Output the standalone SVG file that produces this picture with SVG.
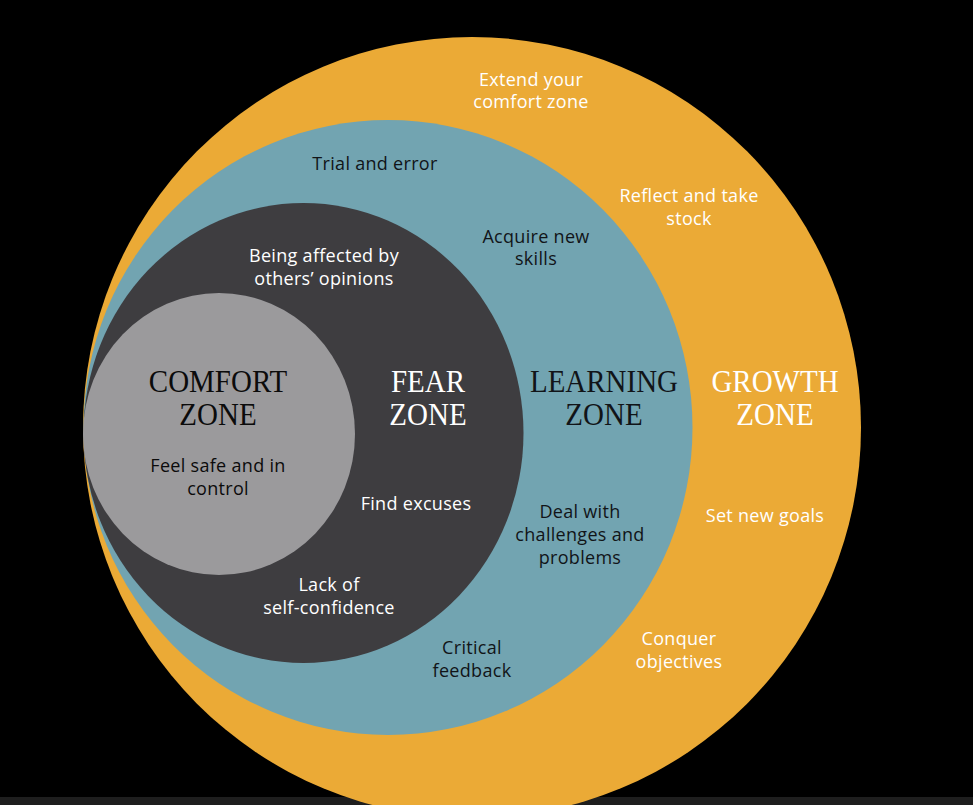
<svg xmlns="http://www.w3.org/2000/svg" width="973" height="805" viewBox="0 0 973 805">
  <style>
    .title { font-family: "Liberation Serif", "DejaVu Serif", serif; font-size: 29px; text-anchor: middle; }
    .note { font-family: "Open Sans", "DejaVu Sans", sans-serif; font-size: 18px; letter-spacing: 0.3px; text-anchor: middle; }
    .light { fill: #ffffff; }
    .ink { fill: #111418; }
    .blk { fill: #0b0b0b; }
  </style>

  <!-- backdrop -->
  <rect x="0" y="0" width="973" height="805" fill="#000000"/>
  <rect x="0" y="797" width="973" height="8" fill="#1e1e1e"/>

  <!-- Growth zone (outermost) -->
  <g id="growth-zone">
    <ellipse cx="472" cy="427.5" rx="389" ry="390.5" fill="#ebaa36"/>
    <text class="title light" transform="translate(775 392) scale(1 1.12)">GROWTH</text>
    <text class="title light" transform="translate(775 425) scale(1 1.12)">ZONE</text>
    <text class="note light" x="531" y="86">Extend your</text>
    <text class="note light" x="531" y="108">comfort zone</text>
    <text class="note light" x="689" y="202">Reflect and take</text>
    <text class="note light" x="689" y="225">stock</text>
    <text class="note light" x="765" y="522">Set new goals</text>
    <text class="note light" x="679" y="645">Conquer</text>
    <text class="note light" x="679" y="668">objectives</text>
  </g>

  <!-- Learning zone -->
  <g id="learning-zone">
    <ellipse cx="388" cy="427.5" rx="304.5" ry="307.5" fill="#72a4b1"/>
    <text class="title ink" transform="translate(604 392) scale(1 1.12)">LEARNING</text>
    <text class="title ink" transform="translate(604 425) scale(1 1.12)">ZONE</text>
    <text class="note ink" x="375" y="170">Trial and error</text>
    <text class="note ink" x="536" y="243">Acquire new</text>
    <text class="note ink" x="536" y="265">skills</text>
    <text class="note ink" x="580" y="518">Deal with</text>
    <text class="note ink" x="580" y="541">challenges and</text>
    <text class="note ink" x="580" y="564">problems</text>
    <text class="note ink" x="472" y="654">Critical</text>
    <text class="note ink" x="472" y="677">feedback</text>
  </g>

  <!-- Fear zone -->
  <g id="fear-zone">
    <ellipse cx="303.5" cy="433" rx="220" ry="230" fill="#3e3d40"/>
    <text class="title light" transform="translate(428 392) scale(1 1.12)">FEAR</text>
    <text class="title light" transform="translate(428 425) scale(1 1.12)">ZONE</text>
    <text class="note light" x="324" y="262">Being affected by</text>
    <text class="note light" x="324" y="285">others’ opinions</text>
    <text class="note light" x="416" y="510">Find excuses</text>
    <text class="note light" x="329" y="591">Lack of</text>
    <text class="note light" x="329" y="614">self-confidence</text>
  </g>

  <!-- Comfort zone (innermost) -->
  <g id="comfort-zone">
    <ellipse cx="219" cy="434" rx="136" ry="141" fill="#9b9a9c"/>
    <text class="title blk" transform="translate(218 392) scale(1 1.12)">COMFORT</text>
    <text class="title blk" transform="translate(218 425) scale(1 1.12)">ZONE</text>
    <text class="note blk" x="218" y="472">Feel safe and in</text>
    <text class="note blk" x="218" y="495">control</text>
  </g>
</svg>
